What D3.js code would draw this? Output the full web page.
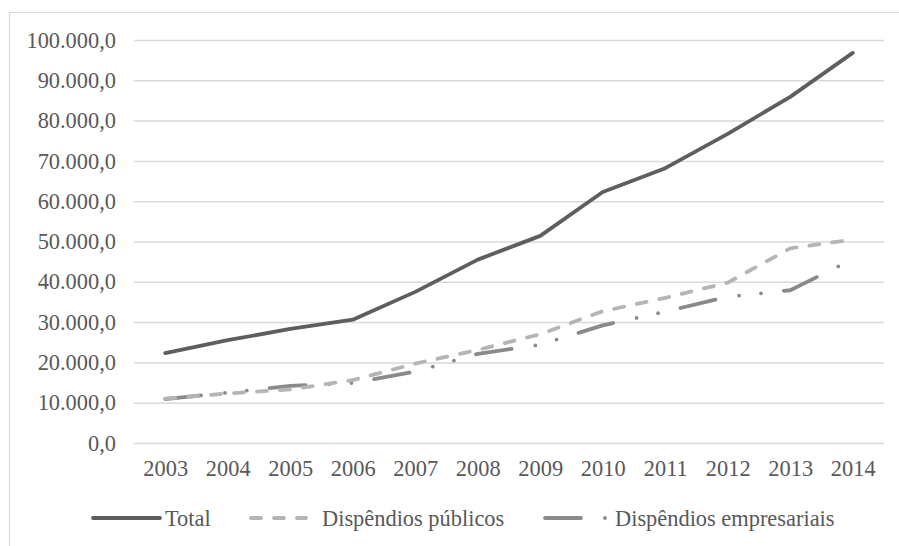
<!DOCTYPE html>
<html>
<head>
<meta charset="utf-8">
<script src="https://cdn.jsdelivr.net/npm/d3@7"></script>
<style>
  html, body { margin: 0; padding: 0; background: #fff; }
  svg { display: block; }
  text { font-family: "Liberation Serif", "Times New Roman", serif; fill: #595959; }
</style>
</head>
<body>
<svg id="chart" width="899" height="546"></svg>
<script>
const years = ["2003","2004","2005","2006","2007","2008","2009","2010","2011","2012","2013","2014"];
const total = [22300, 25500, 28300, 30600, 37500, 45500, 51400, 62300, 68200, 76700, 85900, 96800];
const publicos = [11000, 12300, 13300, 15600, 19700, 23100, 27000, 32700, 36000, 39800, 48300, 50500];
const empresariais = [10900, 12500, 14200, 14900, 17700, 22100, 24400, 29200, 32600, 36300, 37900, 45600];
const yTicks = [0, 10000, 20000, 30000, 40000, 50000, 60000, 70000, 80000, 90000, 100000];
const seriesNames = ["Total", "Dispêndios públicos", "Dispêndios empresariais"];

const series = [
  { name: seriesNames[0], values: total, color: "#5e5e5e", dash: null },
  { name: seriesNames[1], values: publicos, color: "#b5b5b5", dash: "10,13" },
  { name: seriesNames[2], values: empresariais, color: "#8a8a8a", dash: "36,24,0,22,0,23" }
];

const svg = d3.select("#chart");
const ptBR = d3.formatLocale({ decimal: ",", thousands: ".", grouping: [3], currency: ["R$", ""] });
const fmt = ptBR.format(",.1f");

const plotLeft = 134, plotRight = 884, plotTop = 40, plotBottom = 443;
const fontSize = 22.4;

const x = d3.scalePoint().domain(years).range([plotLeft, plotRight]).padding(0.5);
const y = d3.scaleLinear().domain([0, 100000]).range([plotBottom, plotTop]);

// outer frame
svg.append("rect")
  .attr("x", 9.5).attr("y", 12.5).attr("width", 900).attr("height", 550)
  .attr("fill", "none").attr("stroke", "#d9d9d9").attr("stroke-width", 1.2);

// horizontal gridlines + y labels
const yAxis = d3.axisLeft(y).tickValues(yTicks).tickFormat(fmt).tickSize(-(plotRight - plotLeft)).tickPadding(18);
const gy = svg.append("g").attr("transform", `translate(${plotLeft},0)`).call(yAxis);
gy.select(".domain").remove();
gy.selectAll(".tick line").attr("stroke", "#d9d9d9").attr("stroke-width", 1.5);
gy.selectAll(".tick text")
  .attr("font-size", fontSize).attr("fill", "#595959")
  .style("font-family", "'Liberation Serif', 'Times New Roman', serif");

// x labels
const xAxis = d3.axisBottom(x).tickSize(0).tickPadding(17);
const gx = svg.append("g").attr("transform", `translate(0,${plotBottom})`).call(xAxis);
gx.select(".domain").remove();
gx.selectAll(".tick text")
  .attr("font-size", fontSize).attr("fill", "#595959")
  .style("font-family", "'Liberation Serif', 'Times New Roman', serif");

// lines
const line = d3.line().x((d, i) => x(years[i])).y(d => y(d));
series.slice().reverse().forEach(s => {
  svg.append("path")
    .datum(s.values)
    .attr("d", line)
    .attr("fill", "none")
    .attr("stroke", s.color)
    .attr("stroke-width", 3.8)
    .attr("stroke-linecap", "round")
    .attr("stroke-linejoin", "round")
    .attr("stroke-dasharray", s.dash);
});

// legend
const legendY = 518;
const legendItems = [
  { s: series[0], x0: 93, x1: 160, tx: 165 },
  { s: series[1], x0: 251, x1: 306, tx: 322 },
  { s: series[2], x0: 545, x1: 608, tx: 615 }
];
legendItems.forEach(it => {
  svg.append("line")
    .attr("x1", it.x0).attr("x2", it.x1)
    .attr("y1", legendY).attr("y2", legendY)
    .attr("stroke", it.s.color).attr("stroke-width", 3.8)
    .attr("stroke-linecap", "round")
    .attr("stroke-dasharray", it.s.dash);
  svg.append("text")
    .attr("x", it.tx).attr("y", legendY)
    .attr("dy", "0.35em")
    .attr("font-size", fontSize)
    .text(it.s.name);
});
</script>
</body>
</html>
